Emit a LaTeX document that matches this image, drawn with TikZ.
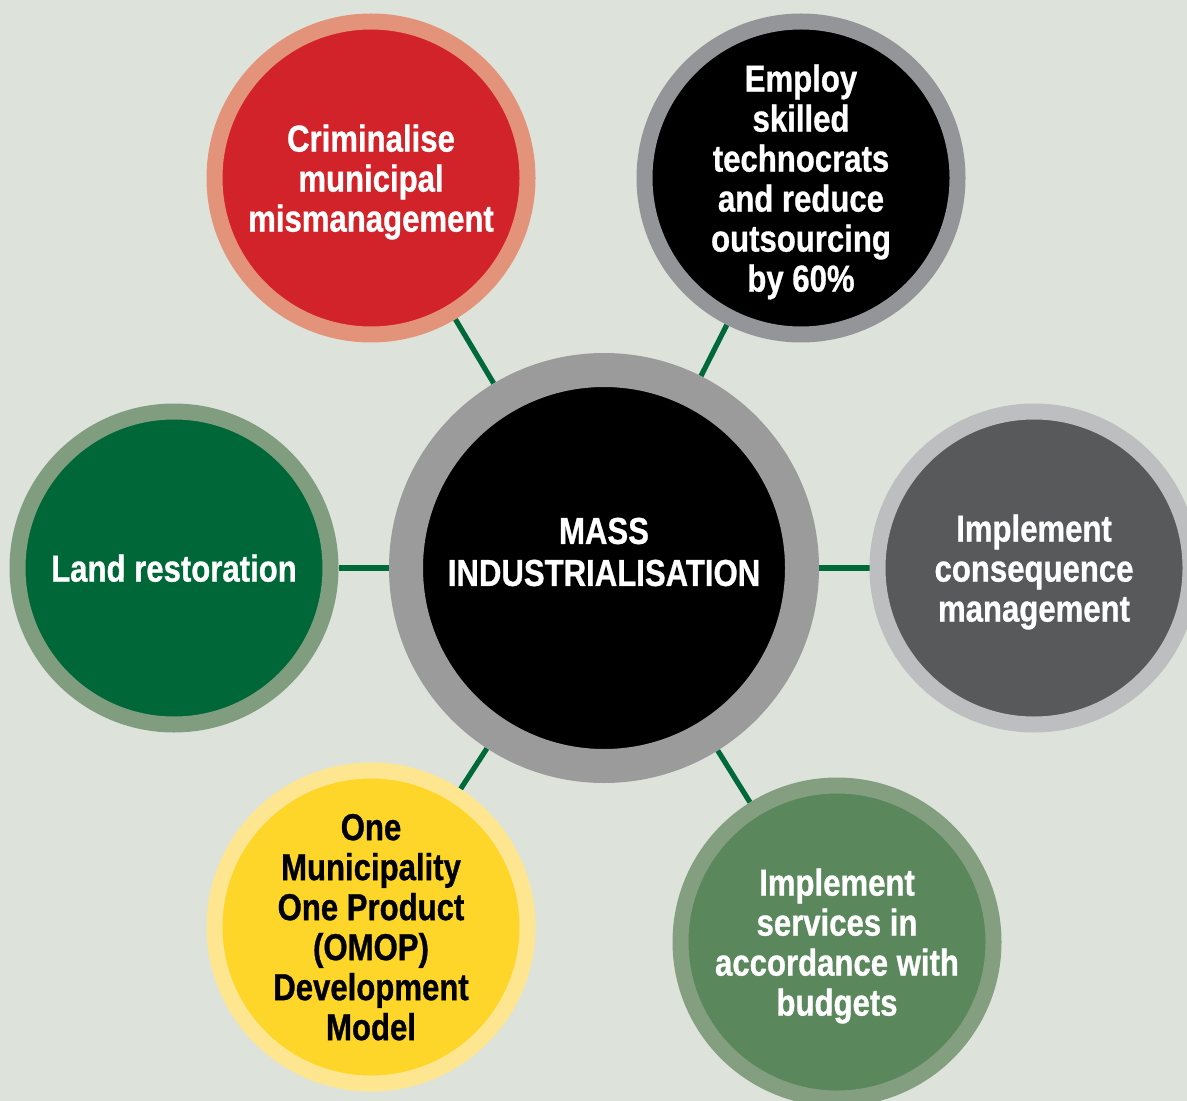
\documentclass[tikz,border=0pt]{standalone}
\usepackage{fontspec}
\newfontfamily\condfont[FakeStretch=0.83, BoldFeatures={FakeBold=0.8}]{Liberation Sans}
\usepackage{tikz}
\usetikzlibrary{positioning}
\usetikzlibrary{backgrounds}
\usepackage{xcolor}
\definecolor{bg}{HTML}{DDE3DB}
\definecolor{spokegreen}{HTML}{00693A}
\definecolor{hubring}{HTML}{9B9B9B}
\definecolor{redfill}{HTML}{D2232A}
\definecolor{redring}{HTML}{E4937B}
\definecolor{grayring}{HTML}{939598}
\definecolor{slatefill}{HTML}{58595B}
\definecolor{lightring}{HTML}{BCBEC0}
\definecolor{deepgreen}{HTML}{006838}
\definecolor{greenring}{HTML}{809E7F}
\definecolor{yellowfill}{HTML}{FDD629}
\definecolor{yellowring}{HTML}{FDE68F}
\definecolor{sagefill}{HTML}{5A875C}
\definecolor{sagering}{HTML}{839F80}

\begin{document}
\begin{tikzpicture}[x=0.5pt, y=-0.5pt, node distance=215pt,
  sat/.style = {circle, line width=8pt, minimum size=156.5pt, inner sep=0pt, align=center, text=white,
    text depth=-2pt, font=\condfont\bfseries\fontsize{18.75pt}{20pt}\selectfont},
  hub/.style = {circle, line width=17pt, minimum size=198pt, draw=hubring, fill=black},
  hubtext/.style = {align=center, text=white, yshift=8pt,
    font=\condfont\bfseries\fontsize{18.75pt}{21pt}\selectfont},
  spoke/.style = {draw=spokegreen, line width=2.6pt}]
\useasboundingbox (0,0) rectangle (1187,1101);
\node[hub] (0) at (604,568) [label={[hubtext]center:{MASS\\INDUSTRIALISATION}}] {};
\node[sat, draw=redring, fill=redfill] (1) at (371,178) {Criminalise\\municipal\\mismanagement};
\node[sat, draw=grayring, fill=black] (2) at (801,178) {Employ\\skilled\\technocrats\\and reduce\\outsourcing\\by 60\%};
\node[sat, draw=lightring, fill=slatefill] (3) [right of=0] {Implement\\consequence\\management};
\node[sat, draw=greenring, fill=deepgreen] (4) [left of=0] {Land restoration};
\node[sat, draw=yellowring, fill=yellowfill, text=black] (5) at (371,927) {One\\Municipality\\One Product\\(OMOP)\\Development\\Model};
\node[sat, draw=sagering, fill=sagefill] (6) at (837,942) {Implement\\services in\\accordance with\\budgets};
\begin{scope}[on background layer]
\fill[bg] (0,0) rectangle (1187,1101);
\foreach \n in {1,...,6}
  \path (0) edge[spoke] (\n);
\end{scope}
\end{tikzpicture}
\end{document}
